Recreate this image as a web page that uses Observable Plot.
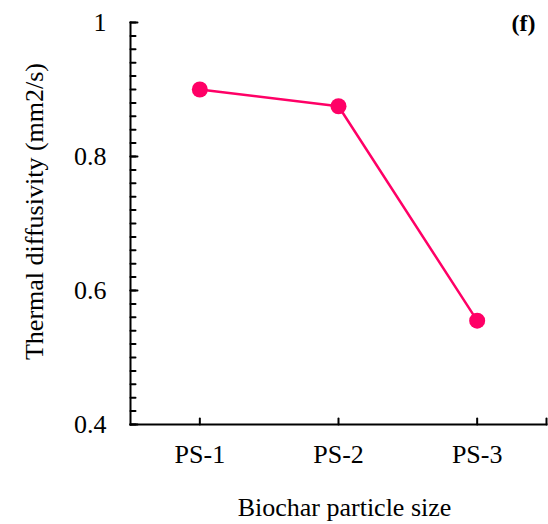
<!DOCTYPE html>
<html>
<head>
<meta charset="utf-8">
<script src="https://cdn.jsdelivr.net/npm/d3@7"></script>
<script src="https://cdn.jsdelivr.net/npm/@observablehq/plot@0.6"></script>
<style>
  html, body { margin: 0; padding: 0; background: #fff; }
</style>
</head>
<body>
<div id="chart"></div>
<script>
// Data
const categories = ["PS-1", "PS-2", "PS-3"];
const diffusivity = [0.9, 0.875, 0.555];
const yTickLabels = [0.4, 0.6, 0.8, 1];
const yMinorStep = 0.02;
const xLabel = "Biochar particle size";
const yLabel = "Thermal diffusivity (mm2/s)";
const panelLabel = "(f)";

const data = categories.map((c, i) => ({pos: i + 1, cat: c, value: diffusivity[i]}));
const xTickPositions = [1, 2, 3, categories.length + 0.5];
const yMinorTicks = d3.range(0, Math.round((1 - 0.4) / yMinorStep) + 1).map(i => +(0.4 + i * yMinorStep).toFixed(2));

const color = "#FF0066";
const font = "'Liberation Serif', 'Times New Roman', serif";
const tickShape = {draw(context, l) { context.moveTo(0, 0); context.lineTo(0, -l); }};

const chart = Plot.plot({
  width: 548,
  height: 524,
  marginLeft: 130,
  marginRight: 2,
  marginTop: 22,
  marginBottom: 100,
  style: {fontFamily: font, fontSize: "26px", background: "#fff", color: "#000"},
  x: {type: "linear", domain: [0.5, categories.length + 0.5]},
  y: {domain: [0.4, 1]},
  marks: [
    Plot.axisY({ticks: yTickLabels, tickSize: 0, tickPadding: 24, tickFormat: d => String(+d.toFixed(2)), label: null}),
    Plot.axisX({ticks: [1, 2, 3], tickSize: 0, tickPadding: 20, tickFormat: d => categories[d - 1], label: null}),
    Plot.frame({anchor: "left", stroke: "#000", strokeWidth: 2}),
    Plot.frame({anchor: "bottom", stroke: "#000", strokeWidth: 2}),
    Plot.vector(yMinorTicks, {y: d => d, frameAnchor: "left", length: 5, rotate: 90, anchor: "start", shape: tickShape, stroke: "#000", strokeWidth: 2}),
    Plot.vector(yTickLabels, {y: d => d, frameAnchor: "left", length: 7, rotate: 90, anchor: "start", shape: tickShape, stroke: "#000", strokeWidth: 2}),
    Plot.vector(xTickPositions, {x: d => d, frameAnchor: "bottom", length: 6, rotate: 0, anchor: "start", shape: tickShape, stroke: "#000", strokeWidth: 2}),
    Plot.line(data, {x: "pos", y: "value", stroke: color, strokeWidth: 2.5}),
    Plot.dot(data, {x: "pos", y: "value", r: 8, fill: color, stroke: "none"}),
    Plot.text([xLabel], {frameAnchor: "bottom", dy: 91, dx: 6, lineAnchor: "bottom", textAnchor: "middle", fontSize: 26, fill: "#000"}),
    Plot.text([yLabel], {frameAnchor: "left", dx: -88, dy: -12, rotate: -90, lineAnchor: "bottom", textAnchor: "middle", fontSize: 26, fill: "#000"}),
    Plot.text([panelLabel], {frameAnchor: "top-right", dx: -11, dy: 8, lineAnchor: "bottom", textAnchor: "end", fontSize: 24, fontWeight: "bold", fill: "#000"})
  ]
});
document.getElementById("chart").appendChild(chart);
</script>
</body>
</html>
